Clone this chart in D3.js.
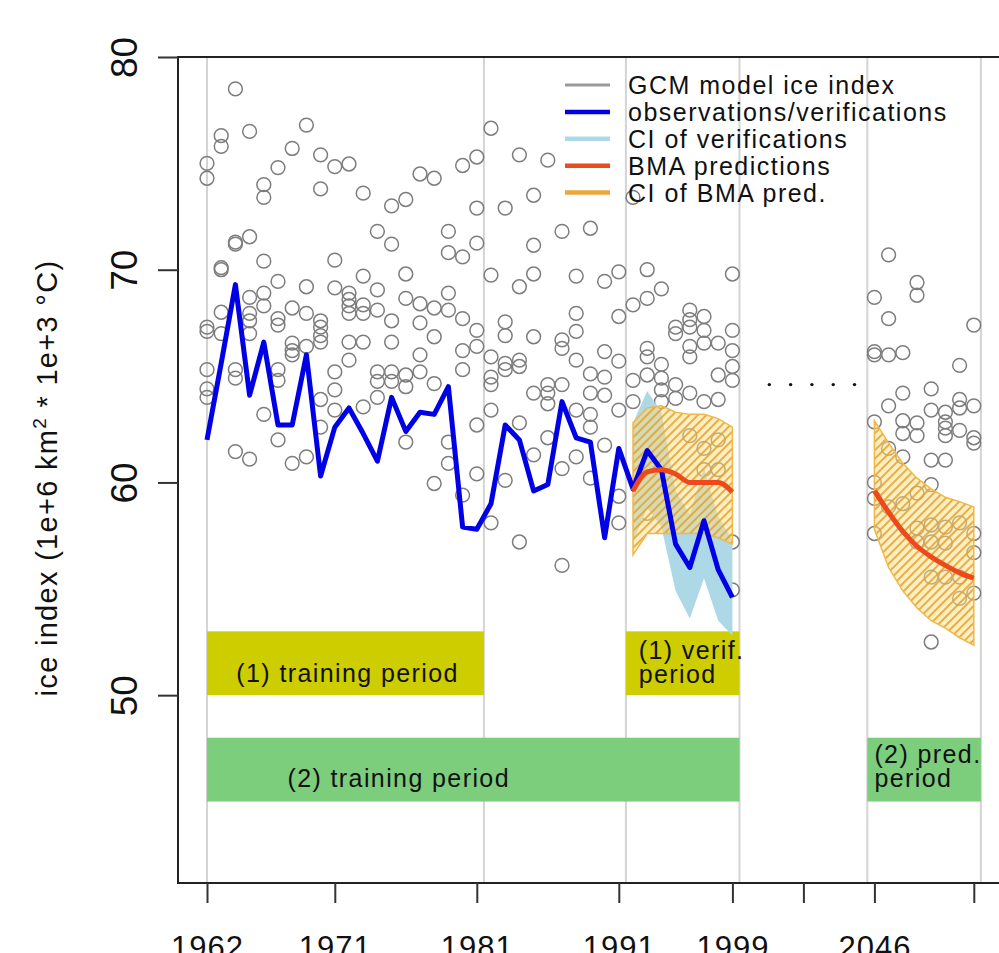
<html>

<head>
    <meta charset="UTF-8">
    <script src="https://d3js.org/d3.v7.min.js"></script>
    <title>ice index</title>
    <style>
        body { margin: 0; background: white; }
        text { font-family: "Liberation Sans", Arial, sans-serif; fill: #111; }
    </style>
</head>

<body>
    <svg width="999" height="953" style="background-color: white;"></svg>

    <script>
        // observation years 1962-1999, prediction years 2046-2053
        const obsYears = d3.range(1962, 2000);
        const predYears = d3.range(2046, 2054);
        const verifYears = d3.range(1992, 2000);

        // observed ice index (blue line)
        const observations = [62.0, 65.6, 69.3, 64.1, 66.6, 62.7, 62.7, 66.0, 60.3, 62.6,
            63.5, 62.3, 61.0, 64.0, 62.4, 63.3, 63.2, 64.5, 57.9, 57.8,
            59.0, 62.7, 62.0, 59.6, 59.9, 63.8, 62.1, 61.9, 57.4, 61.6,
            59.7, 61.5, 60.6, 57.1, 56.0, 58.2, 55.9, 54.6];

        // GCM model ice index, one list per year 1962-1999
        const gcmHist = [
            [75.0, 74.3, 67.3, 67.1, 65.3, 64.4, 64.0],
            [76.3, 75.8, 70.1, 70.0, 68.0, 67.0],
            [78.5, 71.3, 71.2, 65.3, 64.9, 61.45],
            [76.5, 71.55, 68.7, 67.95, 67.6, 67.0, 61.1],
            [74.0, 73.4, 70.4, 68.9, 68.3, 63.2],
            [74.8, 69.45, 67.7, 67.4, 65.3, 64.8, 62.0],
            [75.7, 68.2, 66.55, 66.2, 66.0, 60.9],
            [76.8, 69.2, 67.95, 66.4, 61.2],
            [75.4, 73.8, 67.6, 67.3, 66.9, 66.6, 63.9, 62.6],
            [74.85, 70.45, 69.15, 65.2, 64.35, 63.4],
            [74.97, 68.9, 68.6, 68.3, 67.95, 66.6, 65.75],
            [73.6, 69.7, 68.35, 67.95, 66.6, 63.55],
            [71.8, 69.05, 68.1, 65.2, 64.75, 64.0],
            [73.0, 71.2, 67.6, 66.6, 65.2, 64.75],
            [73.3, 69.8, 68.65, 65.05, 64.5, 61.9],
            [74.5, 68.4, 67.5, 66.0, 65.2],
            [74.3, 68.2, 66.85, 64.65, 59.95],
            [71.8, 70.8, 68.9, 68.1, 61.9, 60.9],
            [74.9, 70.6, 67.7, 66.2, 65.3, 59.4],
            [75.3, 72.9, 71.25, 67.15, 66.4, 62.7, 60.4],
            [76.65, 69.75, 65.9, 64.95, 64.6, 63.4, 58.1],
            [72.9, 67.55, 66.9, 65.6, 65.3, 60.1],
            [75.4, 69.2, 65.75, 65.45, 62.8, 57.2],
            [73.5, 71.15, 69.8, 66.85, 64.2, 61.3],
            [75.15, 64.6, 64.2, 63.7, 62.1],
            [71.8, 66.7, 66.3, 64.6, 60.65, 56.1],
            [69.7, 67.95, 67.1, 65.75, 63.4, 61.2],
            [71.95, 65.1, 64.2, 63.2, 62.6, 60.2],
            [69.45, 66.15, 64.95, 64.1, 61.75],
            [69.9, 67.8, 65.7, 63.4, 59.35, 58.1],
            [73.4, 68.35, 64.8, 63.8],
            [70.0, 68.65, 66.3, 65.9, 65.05, 58.55],
            [69.1, 65.55, 64.9, 64.35, 63.8],
            [67.3, 67.0, 64.6, 63.95],
            [68.1, 67.65, 67.3, 66.4, 65.9, 64.2, 62.2],
            [67.8, 67.15, 66.55, 63.8, 61.6, 60.6],
            [66.55, 65.05, 63.9, 62.0, 60.6],
            [69.8, 67.15, 66.2, 65.45, 64.8, 57.2, 54.95]
        ];

        // GCM model ice index, one list per year 2046-2053
        const gcmPred = [
            [68.7, 66.15, 66.0, 62.85, 60.0, 59.25, 57.6],
            [70.7, 67.7, 66.0, 63.6, 61.6, 58.85],
            [66.1, 64.2, 62.9, 62.3, 61.2, 59.0],
            [69.4, 68.8, 62.8, 62.2, 59.5, 57.85, 57.2],
            [64.4, 63.4, 61.05, 59.9, 58.0, 57.2, 55.55, 52.5],
            [63.3, 62.85, 62.55, 62.2, 61.05, 57.9, 57.15, 55.55],
            [65.5, 63.9, 63.5, 62.45, 58.1, 55.55, 54.55],
            [67.4, 63.6, 62.1, 61.85, 57.6, 56.7, 54.8]
        ];

        // confidence interval of verifications 1992-1999
        const verifLo = [57.2, 58.8, 57.9, 54.9, 53.6, 55.5, 53.5, 52.8];
        const verifHi = [62.8, 64.3, 63.3, 59.6, 58.5, 60.7, 58.4, 57.3];

        // BMA predictions in the verification period and the prediction period
        const bmaVerif = [59.6, 60.5, 60.6, 60.4, 60.0, 60.0, 60.0, 59.55];
        const bmaVerifLo = [56.6, 57.6, 57.6, 57.6, 57.6, 57.6, 57.4, 57.1];
        const bmaVerifHi = [62.8, 63.5, 63.6, 63.3, 63.2, 63.2, 63.0, 62.6];
        const bmaPred = [59.6, 58.6, 57.7, 57.0, 56.5, 56.1, 55.75, 55.5];
        const bmaPredLo = [57.8, 56.0, 54.9, 54.1, 53.5, 53.15, 52.7, 52.35];
        const bmaPredHi = [62.9, 61.85, 60.9, 60.2, 59.7, 59.3, 59.1, 58.85];

        // axis positions (x is a running index: 1962 = 0 ... 1999 = 37, 2046 = 47)
        const tickIdx = [0, 9, 19, 29, 37, 42, 47, 54];
        const tickLabels = ['1962', '1971', '1981', '1991', '1999', '', '2046', ''];
        const gridIdx = [0, 19.5, 29.5, 37.5, 46.5, 54.5];
        const yTicks = [50, 60, 70, 80];
        const dotIdx = [39.6, 41.1, 42.6, 44.1, 45.6];

        const legendLabels = ['GCM model ice index', 'observations/verifications', 'CI of verifications',
            'BMA predictions', 'CI of BMA pred.'];
        const legendColors = ['#9a9a9a', '#0000e6', '#add8e6', '#ec4a1c', '#eba83a'];

        // period boxes
        const periods = [
            { x0: 0, x1: 19.5, y0: 50, y1: 53, fill: '#cdcd00', lines: ['(1) training period'], lx: 9.9, ly: 50.62, anchor: 'middle' },
            { x0: 29.5, x1: 37.5, y0: 50, y1: 53, fill: '#cdcd00', lines: ['(1) verif.', 'period'], lx: 30.4, ly: 51.72, anchor: 'start' },
            { x0: 0, x1: 37.5, y0: 45, y1: 48, fill: '#7ccd7c', lines: ['(2) training period'], lx: 13.5, ly: 45.68, anchor: 'middle' },
            { x0: 46.5, x1: 54.5, y0: 45, y1: 48, fill: '#7ccd7c', lines: ['(2) pred.', 'period'], lx: 47.0, ly: 46.8, anchor: 'start' }
        ];

        function idx(year) {
            return year <= 1999 ? year - 1962 : year - 2046 + 47;
        }

        const svg = d3.select('svg');
        const x = d3.scaleLinear().domain([0, 54]).range([207, 973.8]);
        const y = d3.scaleLinear().domain([41.17, 80]).range([883, 57]);

        // hatch for the BMA confidence band
        const pat = svg.append('defs').append('pattern')
            .attr('id', 'hatch')
            .attr('patternUnits', 'userSpaceOnUse')
            .attr('width', 6).attr('height', 6)
            .attr('patternTransform', 'rotate(45)');
        pat.append('rect').attr('width', 6).attr('height', 6).attr('fill', 'rgba(255,222,130,0.5)');
        pat.append('line').attr('x1', 1).attr('y1', 0).attr('x2', 1).attr('y2', 6)
            .attr('stroke', 'rgba(226,160,45,0.9)').attr('stroke-width', 1.8);

        // grid lines
        svg.selectAll('.grid').data(gridIdx).join('line')
            .attr('class', 'grid')
            .attr('x1', d => x(d)).attr('x2', d => x(d))
            .attr('y1', 57).attr('y2', 883)
            .attr('stroke', '#d4d4d4').attr('stroke-width', 2);

        // period boxes and their labels
        svg.selectAll('.period').data(periods).join('rect')
            .attr('class', 'period')
            .attr('x', d => x(d.x0)).attr('width', d => x(d.x1) - x(d.x0))
            .attr('y', d => y(d.y1)).attr('height', d => y(d.y0) - y(d.y1))
            .attr('fill', d => d.fill);

        periods.forEach(function (p) {
            p.lines.forEach(function (txt, k) {
                svg.append('text')
                    .attr('x', x(p.lx))
                    .attr('y', y(p.ly) + k * 24)
                    .attr('text-anchor', p.anchor)
                    .style('font-size', '25px')
                    .style('letter-spacing', '1.4px')
                    .text(txt);
            });
        });

        // GCM points
        const pts = [];
        gcmHist.forEach((vals, i) => vals.forEach(v => pts.push({ i: idx(obsYears[i]), v: v })));
        gcmPred.forEach((vals, i) => vals.forEach(v => pts.push({ i: idx(predYears[i]), v: v })));
        svg.selectAll('.gcm').data(pts).join('circle')
            .attr('class', 'gcm')
            .attr('cx', d => x(d.i)).attr('cy', d => y(d.v))
            .attr('r', 6.9)
            .attr('fill', 'none')
            .attr('stroke', '#7d7d7d')
            .attr('stroke-width', 1.5);

        // bands
        const band = (lo, hi) => d3.area()
            .x((d, k) => x(d))
            .y0((d, k) => y(lo[k]))
            .y1((d, k) => y(hi[k]));

        const vIdx = verifYears.map(idx);
        const pIdx = predYears.map(idx);

        svg.append('path').datum(vIdx)
            .attr('d', band(verifLo, verifHi))
            .attr('fill', '#add8e6');

        [[vIdx, bmaVerifLo, bmaVerifHi], [pIdx, bmaPredLo, bmaPredHi]].forEach(function (b) {
            svg.append('path').datum(b[0])
                .attr('d', band(b[1], b[2]))
                .attr('fill', 'url(#hatch)')
                .attr('stroke', '#f0b848')
                .attr('stroke-width', 1.5);
        });

        // lines
        const line = vals => d3.line().x((d, k) => x(d)).y((d, k) => y(vals[k]));

        svg.append('path').datum(obsYears.map(idx))
            .attr('d', line(observations))
            .attr('fill', 'none').attr('stroke', '#0000e6')
            .attr('stroke-width', 5).attr('stroke-linejoin', 'round');

        [[vIdx, bmaVerif], [pIdx, bmaPred]].forEach(function (b) {
            svg.append('path').datum(b[0])
                .attr('d', line(b[1]).curve(d3.curveMonotoneX))
                .attr('fill', 'none').attr('stroke', '#ec4a1c')
                .attr('stroke-width', 5).attr('stroke-linejoin', 'round');
        });

        // the ". . . . ." gap marker
        svg.selectAll('.gap').data(dotIdx).join('circle')
            .attr('class', 'gap')
            .attr('cx', d => x(d)).attr('cy', y(64.6))
            .attr('r', 1.7).attr('fill', '#111');

        // frame
        svg.append('rect')
            .attr('x', 178).attr('y', 57)
            .attr('width', 1040 - 178).attr('height', 883 - 57)
            .attr('fill', 'none').attr('stroke', '#222').attr('stroke-width', 2);

        // x axis
        svg.append('g')
            .attr('transform', 'translate(0,883)')
            .call(d3.axisBottom(x).tickValues(tickIdx)
                .tickFormat((d, i) => tickLabels[i]).tickSize(20).tickPadding(33))
            .call(g => g.select('.domain').remove())
            .call(g => g.selectAll('line').attr('stroke', '#333').attr('stroke-width', 2))
            .call(g => g.selectAll('text')
                .attr('font-family', null).attr('fill', null)
                .style('font-size', '31px').style('letter-spacing', '1px'));

        // y axis with rotated labels
        svg.append('g')
            .attr('transform', 'translate(178,0)')
            .call(d3.axisLeft(y).tickValues(yTicks).tickSize(20).tickFormat(d3.format('d')))
            .call(g => g.select('.domain').remove())
            .call(g => g.selectAll('line').attr('stroke', '#333').attr('stroke-width', 2))
            .call(g => g.selectAll('text')
                .attr('x', 0).attr('dy', 0).attr('fill', null)
                .attr('text-anchor', 'middle')
                .attr('transform', 'translate(-41,0) rotate(-90)')
                .style('font-size', '37px'));

        // y label
        const ylab = svg.append('text')
            .attr('transform', 'translate(57,478) rotate(-90)')
            .attr('text-anchor', 'middle')
            .style('font-size', '29px')
            .style('letter-spacing', '1.3px');
        ylab.append('tspan').text('ice index (1e+6 km');
        ylab.append('tspan').attr('dy', -11).style('font-size', '19px').text('2');
        ylab.append('tspan').attr('dy', 11).text(' * 1e+3 \u00b0C)');

        // legend
        const leg = svg.selectAll('.leg').data(legendLabels).join('g')
            .attr('class', 'leg')
            .attr('transform', (d, i) => 'translate(565,' + (85 + i * 26.9) + ')');
        leg.append('line')
            .attr('x1', 0).attr('x2', 45)
            .attr('stroke', (d, i) => legendColors[i])
            .attr('stroke-width', (d, i) => i === 0 ? 3 : 4.5);
        leg.append('text')
            .attr('x', 63).attr('dy', 9)
            .style('font-size', '25px')
            .style('letter-spacing', '1.5px')
            .text(d => d);
    </script>
</body>

</html>
